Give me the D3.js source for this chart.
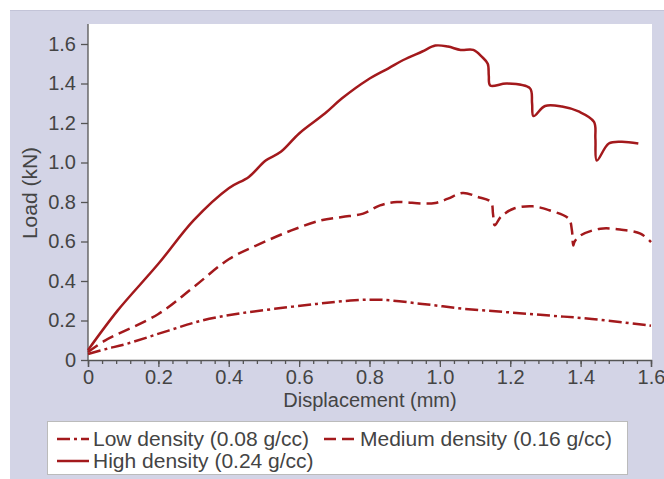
<!DOCTYPE html>
<html>
<head>
<meta charset="utf-8">
<script src="https://cdn.jsdelivr.net/npm/d3@7"></script>
<style>
	body { margin: 0; background: #fff; }
	svg { display: block; font-family: "Liberation Sans", Arial, sans-serif; }
</style>
</head>
<body>
<svg id="chart" width="664" height="479"></svg>
<script>
// values (displacement in mm, load in kN)
const lowX = [0, 0.05, 0.108, 0.229, 0.325, 0.421, 0.53, 0.65, 0.746, 0.83, 0.95, 1.071, 1.191, 1.312, 1.432, 1.6];
const lowY = [0.03, 0.055, 0.081, 0.149, 0.2, 0.233, 0.259, 0.284, 0.301, 0.305, 0.284, 0.259, 0.242, 0.225, 0.208, 0.174];

const medX = [0, 0.048, 0.2, 0.3, 0.4, 0.49, 0.578, 0.662, 0.722, 0.782, 0.83, 0.878, 0.95, 0.987, 1.023, 1.065, 1.107, 1.145, 1.151, 1.156, 1.173, 1.209, 1.264, 1.311, 1.366, 1.375, 1.379, 1.383, 1.4, 1.456, 1.516, 1.57, 1.6];
const medY = [0.04, 0.098, 0.233, 0.369, 0.51, 0.589, 0.656, 0.707, 0.724, 0.741, 0.783, 0.8, 0.792, 0.795, 0.817, 0.846, 0.826, 0.8, 0.74, 0.682, 0.724, 0.766, 0.778, 0.758, 0.716, 0.66, 0.58, 0.6, 0.631, 0.665, 0.66, 0.64, 0.597];

const highX = [0, 0.084, 0.2, 0.3, 0.4, 0.457, 0.505, 0.548, 0.6, 0.674, 0.722, 0.794, 0.854, 0.896, 0.95, 0.987, 1.023, 1.059, 1.095, 1.119, 1.136, 1.139, 1.143, 1.19, 1.256, 1.262, 1.266, 1.299, 1.347, 1.396, 1.438, 1.442, 1.446, 1.48, 1.516, 1.564];
const highY = [0.05, 0.25, 0.487, 0.707, 0.87, 0.927, 1.01, 1.054, 1.147, 1.249, 1.325, 1.418, 1.477, 1.519, 1.562, 1.592, 1.587, 1.57, 1.57, 1.536, 1.5, 1.44, 1.39, 1.4, 1.376, 1.3, 1.235, 1.286, 1.283, 1.257, 1.206, 1.12, 1.01, 1.096, 1.105, 1.096];

const xTicks = [0, 0.2, 0.4, 0.6, 0.8, 1.0, 1.2, 1.4, 1.6];
const yTicks = [0, 0.2, 0.4, 0.6, 0.8, 1.0, 1.2, 1.4, 1.6];

const seriesNames = ["Low density (0.08 g/cc)", "Medium density (0.16 g/cc)", "High density (0.24 g/cc)"];
const seriesDash = ["13,4,3,4", "12,6", null];

const red = "#a3191c";
const axisColor = "#555";
const textColor = "#444";

const svg = d3.select("#chart");

// lavender panel and white plot area
svg.append("rect").attr("x", 10).attr("y", 10).attr("width", 654).attr("height", 469).attr("fill", "#d3d4e6");
svg.append("line").attr("x1", 10).attr("x2", 664).attr("y1", 10.5).attr("y2", 10.5).attr("stroke", "#c3c4d8");

const x = d3.scaleLinear().domain([0, 1.6]).range([88, 651]);
const y = d3.scaleLinear().domain([0, 1.6]).range([360, 44]);

svg.append("rect")
	.attr("x", x(0)).attr("y", 24)
	.attr("width", 652 - x(0)).attr("height", y(0) - 24)
	.attr("fill", "#fff");

// axes
const fmt = (d) => (d === 0 ? "0" : d3.format(".1f")(d));

const yAxis = svg.append("g")
	.attr("transform", `translate(${x(0)},0)`)
	.call(d3.axisLeft(y).tickValues(yTicks).tickFormat(fmt).tickSize(7).tickPadding(5));

const xMinor = svg.append("g")
	.attr("transform", `translate(0,${y(0)})`)
	.call(d3.axisBottom(x).tickValues(d3.range(0, 41).map((i) => i * 0.04)).tickFormat("").tickSize(4));

const xAxis = svg.append("g")
	.attr("transform", `translate(0,${y(0)})`)
	.call(d3.axisBottom(x).tickValues(xTicks).tickFormat(fmt).tickSize(7).tickPadding(3));

yAxis.select(".domain").attr("d", `M0,${y(0)}V24`);
xMinor.select(".domain").remove();

[xAxis, yAxis, xMinor].forEach((g) => {
	g.selectAll("path, line").attr("stroke", axisColor).attr("stroke-width", 1.3);
	g.selectAll("text").attr("fill", textColor).style("font-size", "20px").style("font-family", "Liberation Sans, Arial, sans-serif");
});

svg.append("text")
	.attr("x", 370).attr("y", 407)
	.attr("text-anchor", "middle")
	.attr("fill", textColor)
	.style("font-size", "20px")
	.text("Displacement (mm)");

svg.append("text")
	.attr("transform", "translate(37,193) rotate(-90)")
	.attr("text-anchor", "middle")
	.attr("fill", textColor)
	.style("font-size", "21px")
	.text("Load (kN)");

// curves
const seriesData = [
	lowX.map((d, i) => [d, lowY[i]]),
	medX.map((d, i) => [d, medY[i]]),
	highX.map((d, i) => [d, highY[i]]),
];

const line = d3.line()
	.x((d) => x(d[0]))
	.y((d) => y(d[1]))
	.curve(d3.curveCatmullRom.alpha(0.5));

svg.append("g")
	.selectAll("path")
	.data(seriesData)
	.join("path")
	.attr("d", line)
	.attr("fill", "none")
	.attr("stroke", red)
	.attr("stroke-width", 2.5)
	.attr("stroke-dasharray", (d, i) => seriesDash[i]);

// legend
const legend = svg.append("g");
legend.append("rect")
	.attr("x", 47.5).attr("y", 421.5)
	.attr("width", 580).attr("height", 53)
	.attr("fill", "#fff")
	.attr("stroke", "#bbb");

const legendPos = [
	{ x: 57, y: 439 },
	{ x: 324, y: 439 },
	{ x: 57, y: 461 },
];

const item = legend.selectAll("g.item")
	.data(seriesNames)
	.join("g")
	.attr("class", "item")
	.attr("transform", (d, i) => `translate(${legendPos[i].x},${legendPos[i].y})`);

item.append("line")
	.attr("x1", 0).attr("x2", 32)
	.attr("stroke", red)
	.attr("stroke-width", 2.5)
	.attr("stroke-dasharray", (d, i) => seriesDash[i]);

item.append("text")
	.attr("x", 36).attr("dy", "0.35em")
	.attr("fill", textColor)
	.style("font-size", "21px")
	.text((d) => d);
</script>
</body>
</html>
